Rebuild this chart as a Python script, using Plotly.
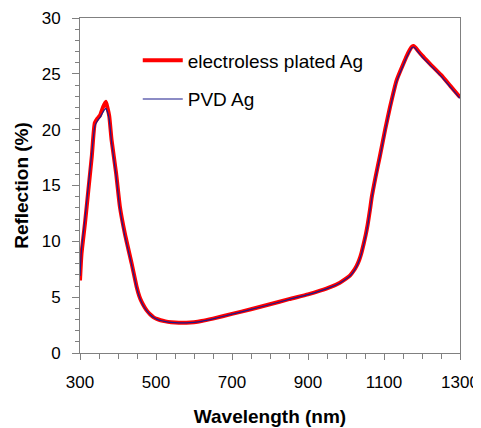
import plotly.graph_objects as go

wavelength = [300, 304, 313, 322, 331, 339, 346, 353, 361, 368, 372, 377, 383, 395, 405, 418,
              436, 449, 456, 462, 470, 477, 485, 493, 502, 512, 525, 540, 560, 580, 600, 620,
              650, 700, 750, 800, 850, 900, 932, 960, 984, 1000, 1011, 1019, 1028, 1035, 1041,
              1046, 1052, 1057, 1063, 1068, 1078, 1089, 1103, 1116, 1133, 1151, 1160, 1168, 1174,
              1178, 1183, 1190, 1200, 1221, 1250, 1275, 1300]
electroless = [6.5, 8.9, 11.6, 14.6, 17.6, 20.6, 21.0, 21.3, 22.05, 22.5, 22.0, 21.2, 19.1, 16.1, 13.1, 10.7,
               8.0, 5.94, 5.1, 4.6, 4.1, 3.75, 3.45, 3.22, 3.05, 2.93, 2.83, 2.76, 2.71, 2.71, 2.76, 2.86,
               3.08, 3.5, 3.92, 4.36, 4.82, 5.25, 5.58, 5.92, 6.3, 6.65, 6.95, 7.3, 7.8, 8.35, 9.0,
               9.7, 10.6, 11.5, 12.8, 14.0, 15.8, 17.6, 20.0, 22.05, 24.4, 25.9, 26.6, 27.15, 27.45,
               27.5, 27.35, 27.05, 26.65, 25.9, 24.9, 23.9, 22.9]
pvd = [6.9, 9.3, 12.0, 15.0, 17.9, 20.3, 20.8, 21.1, 21.6, 21.9, 21.6, 20.9, 18.9, 15.9, 12.9, 10.5,
       7.9, 5.85, 5.05, 4.55, 4.05, 3.72, 3.42, 3.2, 3.03, 2.91, 2.81, 2.74, 2.7, 2.7, 2.75, 2.84,
       3.06, 3.48, 3.9, 4.34, 4.8, 5.23, 5.56, 5.9, 6.27, 6.62, 6.92, 7.25, 7.75, 8.3, 8.95,
       9.65, 10.5, 11.4, 12.7, 13.9, 15.7, 17.5, 19.9, 21.95, 24.3, 25.8, 26.5, 27.05, 27.35,
       27.4, 27.25, 26.95, 26.55, 25.8, 24.8, 23.8, 22.8]

x_ticks = [300, 500, 700, 900, 1100, 1300]
y_ticks = [0, 5, 10, 15, 20, 25, 30]

FONT = "Liberation Sans, Arial, sans-serif"

fig = go.Figure()
fig.add_trace(go.Scatter(x=wavelength, y=electroless, mode="lines", name="electroless plated Ag",
                         line=dict(color="#ff0000", width=4, shape="spline", smoothing=0.5),
                         legendgroup="a"))
fig.add_trace(go.Scatter(x=wavelength, y=pvd, mode="lines", name="PVD Ag",
                         line=dict(color="#1a1a8c", width=1.2, shape="spline", smoothing=0.5),
                         legendgroup="b"))

# page body has an 8px margin, so the figure is 8px smaller and margins shifted
fig.update_layout(
    width=473, height=420,
    margin=dict(l=72, r=21, t=10, b=75, autoexpand=False),
    paper_bgcolor="white", plot_bgcolor="white",
    font=dict(family=FONT, size=17, color="black"),
    showlegend=True,
    legend=dict(x=0.152, y=0.93, xanchor="left", yanchor="top", bgcolor="rgba(0,0,0,0)",
                font=dict(size=19), itemwidth=40, tracegroupgap=11, traceorder="grouped"),
)
fig.update_xaxes(
    range=[300, 1300], tickvals=x_ticks, ticktext=[str(v) for v in x_ticks],
    showline=True, linecolor="#808080", linewidth=1, mirror=True, automargin=False,
    ticks="outside", ticklen=6, tickcolor="#808080", tickwidth=1,
    minor=dict(dtick=50, tick0=300, ticks="outside", ticklen=5, tickcolor="#808080", showgrid=False),
    showgrid=False, zeroline=False, ticklabelstandoff=8,
    title=dict(text="<b>Wavelength (nm)</b>", font=dict(size=19), standoff=18),
)
fig.update_yaxes(
    range=[0, 30], tickvals=y_ticks, ticktext=[str(v) for v in y_ticks],
    showline=True, linecolor="#808080", linewidth=1, mirror=True, automargin=False,
    ticks="outside", ticklen=7, tickcolor="#808080", tickwidth=1,
    minor=dict(dtick=1, tick0=0, ticks="outside", ticklen=4, tickcolor="#808080", showgrid=False),
    showgrid=False, zeroline=False, ticklabelstandoff=8,
    title=dict(text="<b>Reflection (%)</b>", font=dict(size=19), standoff=8),
)

fig.write_html("out.html")
